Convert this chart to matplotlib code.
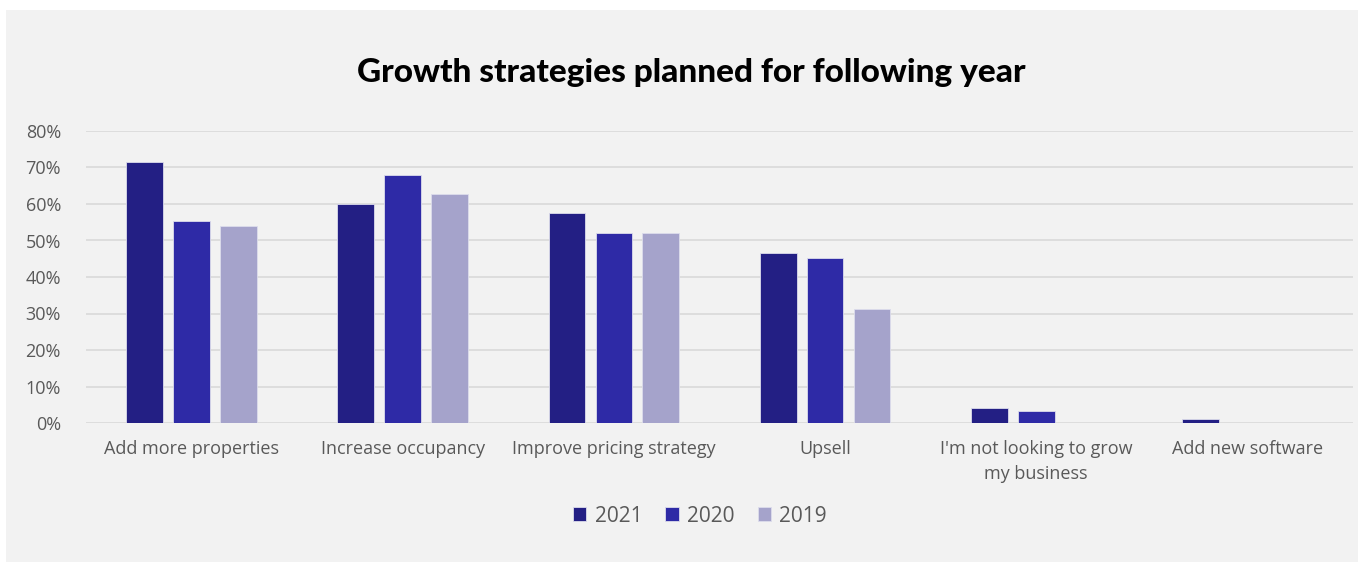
import matplotlib.pyplot as plt
import matplotlib.ticker as mticker
from matplotlib.patches import Rectangle
import numpy as np

categories = ["Add more properties", "Increase occupancy", "Improve pricing strategy",
              "Upsell", "I'm not looking to grow\nmy business", "Add new software"]
years = ["2021", "2020", "2019"]
v2021 = [71.5, 60.0, 57.5, 46.6, 4.1, 1.0]
v2020 = [55.3, 67.9, 52.1, 45.2, 3.3, 0.0]
v2019 = [54.0, 62.7, 52.1, 31.2, 0.0, 0.0]
colors = ["#231f84", "#2e2aa6", "#a5a3cb"]

BG = "#f2f2f2"
TXT = "#595959"

fig = plt.figure(figsize=(13.64, 5.67), dpi=100)
fig.patch.set_facecolor("white")
fig.patches.append(Rectangle((6 / 1364, 5 / 567), 1352 / 1364, 552 / 567,
                             transform=fig.transFigure, facecolor=BG,
                             edgecolor="none", zorder=-10))

ax = fig.add_axes([86 / 1364, (567 - 423) / 567, (1353 - 86) / 1364, 292 / 567])
ax.set_facecolor("none")

x = np.arange(len(categories))
w = 0.174
step = 0.222
for i, (vals, c, lab) in enumerate(zip([v2021, v2020, v2019], colors, years)):
    ax.bar(x + (i - 1) * step, vals, width=w, color=c, label=lab,
           edgecolor="#dcdcec", linewidth=0.6, zorder=3)

ax.set_xlim(-0.5, len(categories) - 0.5)
ax.set_ylim(0, 80)
ax.set_yticks(np.arange(0, 81, 10))
ax.yaxis.set_major_formatter(mticker.FuncFormatter(lambda v, _: f"{v:.0f}%"))
ax.grid(axis="y", color="#d9d9d9", linewidth=1.2, zorder=0)
ax.set_axisbelow(True)
for s in ax.spines.values():
    s.set_visible(False)
ax.tick_params(axis="both", length=0, labelsize=13, labelcolor=TXT)
ax.tick_params(axis="y", pad=18)
ax.tick_params(axis="x", pad=12)
ax.set_xticks(x)
ax.set_xticklabels(categories, linespacing=1.5)
for t in ax.get_xticklabels() + ax.get_yticklabels():
    t.set_fontfamily("Open Sans")

fig.text(0.507, 1 - 73 / 567, "Growth strategies planned for following year",
         ha="center", va="center", fontsize=24, fontweight="black",
         family="Lato", color="black")

# legend sits a little left of the plot centre
ax.legend(loc="center", bbox_to_anchor=((700 - 86) / 1267, (423 - 516) / 292), ncol=3,
          frameon=False, handlelength=0.65, handleheight=0.65,
          handletextpad=0.4, columnspacing=1.1, labelcolor=TXT,
          prop={"family": "Open Sans", "size": 15})

fig.savefig("out.png", dpi=100, facecolor="white")
